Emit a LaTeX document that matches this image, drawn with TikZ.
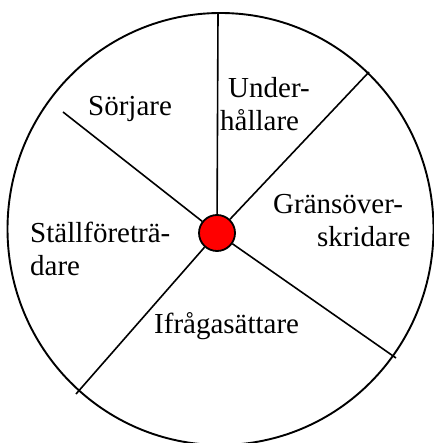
\documentclass[tikz,border=0pt]{standalone}
\usepackage{fontspec}
\setmainfont{Liberation Serif}
\definecolor{hubred}{HTML}{FF0000}
\usetikzlibrary{positioning}

\begin{document}
\begin{tikzpicture}[x=1pt,y=-1pt,
  rim/.style={line width=1.9pt},
  spoke/.style={line width=1.6pt},
  hubdot/.style={circle,draw,line width=1.8pt,fill=hubred,minimum size=36pt,
    inner sep=0pt},
  role/.style={font=\fontsize{29}{33}\selectfont,inner sep=0pt,align=left,
    anchor=base west}]
  \useasboundingbox (0,0) rectangle (433,443);
  \draw[rim] (220.5,229) ellipse [x radius=213pt, y radius=216pt];
  \node[hubdot] (hub) at (217,233) {};
  \coordinate (top) at (218,14);
  \coordinate (ne) at (369,72);
  \coordinate (se) at (396,358);
  \coordinate (sw) at (76,394);
  \coordinate (nw) at (63,112);
  \foreach \e in {top,ne,se,sw,nw}
    \draw[spoke] (hub) -- (\e);
  \node[role] (sorjare) at (88,116) {Sörjare};
  \node[role] (underhallare) at (220,131) {\hspace*{8pt}Under-\\hållare};
  \node[role] (gransover) at (273,246) {Gränsöver-\\\hspace*{44pt}skridare};
  \node[role] (stallfore) at (30,275) {Ställföreträ-\\dare};
  \node[role] (ifraga) at (154,333) {Ifrågasättare};
\end{tikzpicture}
\end{document}
